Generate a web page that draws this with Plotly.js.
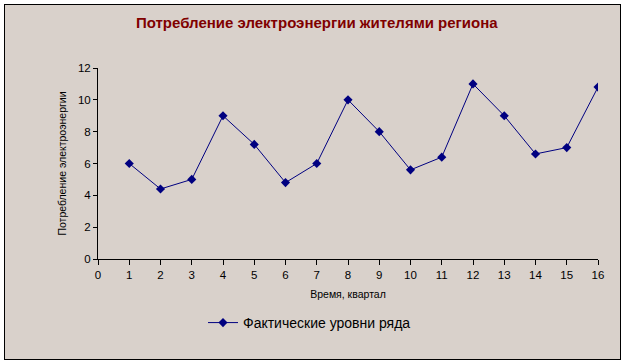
<!DOCTYPE html>
<html>
<head>
<meta charset="utf-8">
<script src="https://cdn.plot.ly/plotly-3.0.1.min.js"></script>
<style>
html,body{margin:0;padding:0;background:#ffffff;width:623px;height:363px;overflow:hidden;}
#frame{position:absolute;left:4px;top:4px;width:615px;height:354px;border:1px solid #000;background:#D9D1CB;}
#chart{position:absolute;left:0;top:0;width:615px;height:354px;}
</style>
</head>
<body>
<div id="frame"><div id="chart"></div></div>
<script>
const quarters = [1,2,3,4,5,6,7,8,9,10,11,12,13,14,15,16];
const consumption = [6.0,4.4,5.0,9.0,7.2,4.8,6.0,10.0,8.0,5.6,6.4,11.0,9.0,6.6,7.0,10.8];
const seriesName = 'Фактические уровни ряда';
const chartTitle = 'Потребление электроэнергии жителями региона';
const xTitle = 'Время, квартал';
const yTitle = 'Потребление электроэнергии';

const trace = {
  x: quarters, y: consumption, type: 'scatter', mode: 'lines+markers', name: seriesName,
  line: {color: '#000080', width: 1},
  marker: {symbol: 'diamond', size: 7, color: '#000080'}
};
const font = 'Liberation Sans, Arial, sans-serif';
const layout = {
  width: 615, height: 354,
  paper_bgcolor: 'rgba(0,0,0,0)', plot_bgcolor: 'rgba(0,0,0,0)',
  margin: {l: 93, r: 22, t: 63, b: 100},
  font: {family: font, color: '#000'},
  title: {text: '<b>' + chartTitle + '</b>', font: {family: font, size: 15, color: '#800000'},
    x: 0.507, xref: 'container', xanchor: 'center', y: 1 - 18/354, yref: 'container', yanchor: 'middle'},
  xaxis: {range: [0, 16], tickmode: 'linear', tick0: 0, dtick: 1, showgrid: false, zeroline: false,
    showline: true, linecolor: '#000', linewidth: 1, ticks: 'outside', ticklen: 5, tickcolor: '#000',
    tickfont: {size: 11.5}, title: {text: xTitle, font: {size: 10.5}, standoff: 10}},
  yaxis: {range: [0, 12], tickmode: 'linear', tick0: 0, dtick: 2, showgrid: false, zeroline: false,
    showline: true, linecolor: '#000', linewidth: 1, ticks: 'outside', ticklen: 4, tickcolor: '#000',
    tickfont: {size: 11.5}, title: {text: yTitle, font: {size: 10.5}, standoff: 9}},
  showlegend: true,
  legend: {orientation: 'h', x: 0.21, xanchor: 'left', y: -0.335, yanchor: 'middle',
    bgcolor: 'rgba(0,0,0,0)', font: {size: 14}}
};
Plotly.newPlot('chart', [trace], layout, {displayModeBar: false, staticPlot: true});
</script>
</body>
</html>
